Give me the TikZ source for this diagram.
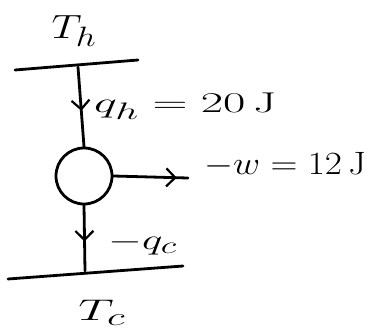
\documentclass[tikz,border=0pt]{standalone}
\usetikzlibrary{arrows.meta,decorations.markings}
\begin{document}
\begin{tikzpicture}[x=1pt,y=-1pt,
  ink/.style={line width=2.8pt,line cap=round,black},
  engine/.style={draw,circle,line width=2.8pt,minimum size=56pt,inner sep=0pt},
  lbl/.style={inner sep=0pt,font=\Huge},
  midarrow/.style={postaction={decorate},decoration={markings,
     mark=at position #1 with {\arrow[line width=2.2pt]{Straight Barb[length=9pt,width=18pt]}}}}
]
\useasboundingbox (0,0) rectangle (372,335);
% hot reservoir
\coordinate (hl) at (15,70);
\coordinate (hr) at (138,60);
\draw[ink] (hl) -- (hr);
\node[lbl] (Th) at (74,31) {\scalebox{1.7}[1.35]{$T_h$}};
% engine
\node[engine] (e) at (84,176) {};
\coordinate (htop) at (78,67);
\draw[ink,midarrow=0.55] (htop) -- (e.north);
\node[lbl,anchor=west] (qh) at (94,106) {\scalebox{1.95}[1.15]{$q_h = 20\,\mathrm{J}$}};
% work
\coordinate (wend) at (188,178);
\draw[ink,midarrow=0.85] (e.east) -- (wend);
\node[lbl,anchor=west] (w) at (204,165) {\scalebox{1.5}[1.3]{$-w = 12\,\mathrm{J}$}};
% cold reservoir
\coordinate (cbot) at (85,271);
\draw[ink,midarrow=0.55] (e.south) -- (cbot);
\node[lbl,anchor=west] (qc) at (108,244) {\scalebox{1.75}[1.15]{$-q_c$}};
\coordinate (cl) at (8,279);
\coordinate (cr) at (183,266);
\draw[ink] (cl) -- (cr);
\node[lbl] (Tc) at (102,313) {\scalebox{2.0}[1.2]{$T_c$}};
\end{tikzpicture}
\end{document}
